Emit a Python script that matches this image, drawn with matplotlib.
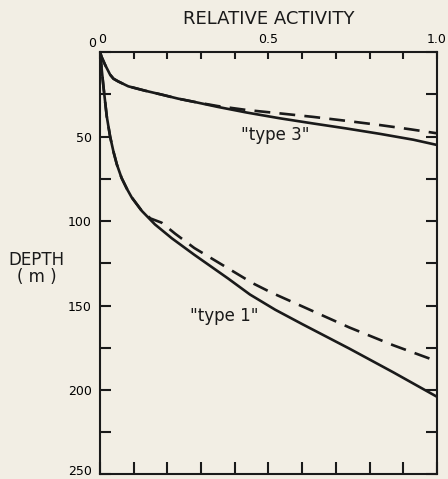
import matplotlib.pyplot as plt
import matplotlib.transforms as mtransforms
import numpy as np

# values (relative activity vs depth in m)
# "type 3" profiles
t3_solid_x = [0.0, 0.005, 0.015, 0.03, 0.04, 0.054, 0.084, 0.134, 0.183, 0.232, 0.282, 0.35, 0.435,
              0.533, 0.633, 0.73, 0.83, 0.93, 1.0]
t3_solid_d = [0, 3, 7.5, 13.4, 15.8, 17.4, 20.3, 22.9, 25.2, 27.6, 29.6, 32.5, 35.8,
              39.2, 42.3, 45.2, 48.4, 51.9, 55]
t3_dash_x = [0.0, 0.005, 0.015, 0.03, 0.04, 0.054, 0.084, 0.134, 0.183, 0.232, 0.282, 0.35, 0.435,
             0.533, 0.633, 0.73, 0.83, 0.92, 1.0]
t3_dash_d = [0, 3, 7.5, 13.4, 15.8, 17.4, 20.3, 22.9, 25.2, 27.6, 29.6, 32, 34.3,
             36.3, 38.4, 40.7, 43.2, 45.7, 48.1]

# "type 1" profiles
t1_solid_x = [0.0, 0.005, 0.01, 0.02, 0.03, 0.04, 0.05, 0.064, 0.08, 0.094, 0.124, 0.163, 0.213,
              0.28, 0.33, 0.38, 0.445, 0.52, 0.6, 0.74, 0.87, 1.0]
t1_solid_d = [0, 10, 20, 38, 50, 59, 66.5, 74.5, 81, 86, 94, 102, 110.2,
              120, 127, 134, 143.5, 152.5, 161, 175.5, 189.5, 204]
t1_dash_x = [0.0, 0.005, 0.01, 0.02, 0.03, 0.04, 0.05, 0.064, 0.08, 0.094, 0.124, 0.15, 0.183,
             0.223, 0.28, 0.38, 0.455, 0.51, 0.6, 0.74, 0.87, 1.0]
t1_dash_d = [0, 10, 20, 38, 50, 59, 66.5, 74.5, 81, 86, 94, 98.5, 101,
             107.5, 116, 128, 137, 142.5, 150.5, 163, 173.5, 183]

x_ticks = np.arange(0, 1.01, 0.1)
x_labels = {0.0: '0', 0.5: '0.5', 1.0: '1.0'}
y_ticks = np.arange(0, 251, 25)
y_labels = {0: '0', 50: '50', 100: '100', 150: '150', 200: '200', 250: '250'}

bg = '#f2eee4'
ink = '#1a1a1a'

fig = plt.figure(figsize=(4.48, 4.79), dpi=100, facecolor=bg)
ax = fig.add_axes([0.2232, 0.0094, 0.7522, 0.882])
ax.set_facecolor(bg)

kw = dict(color=ink, lw=1.9, solid_joinstyle='round', solid_capstyle='round')
ax.plot(t3_solid_x, t3_solid_d, **kw)
ax.plot(t3_dash_x, t3_dash_d, dashes=(6, 3.5), **kw)
ax.plot(t1_solid_x, t1_solid_d, **kw)
ax.plot(t1_dash_x, t1_dash_d, dashes=(6, 3.5), **kw)

ax.set_xlim(0, 1.0)
ax.set_ylim(250, 0)

for s in ax.spines.values():
    s.set_linewidth(1.5)
    s.set_color(ink)

ax.set_xticks(x_ticks)
ax.set_xticklabels([x_labels.get(round(v, 1), '') for v in x_ticks])
ax.set_yticks(y_ticks)
ax.set_yticklabels([y_labels.get(int(v), '') for v in y_ticks])
ax.tick_params(axis='x', direction='in', length=8.5, width=1.5, color=ink,
               top=True, bottom=True, labeltop=True, labelbottom=False,
               labelsize=9, pad=4)
ax.tick_params(axis='y', direction='in', length=8, width=1.5, color=ink,
               left=True, right=True, labelsize=9, pad=6)
# top ticks are shorter than the bottom ones in the original
for t in ax.xaxis.get_major_ticks():
    t.tick2line.set_markersize(5)

# nudge the corner labels like in the original lettering
for lab, v in zip(ax.get_yticklabels(), y_ticks):
    if v == 0:
        lab.set_transform(lab.get_transform() + mtransforms.ScaledTranslation(3 / 72, 7 / 72, fig.dpi_scale_trans))
    if v == 250:
        lab.set_transform(lab.get_transform() + mtransforms.ScaledTranslation(0, 3 / 72, fig.dpi_scale_trans))
lab0 = ax.get_xticklabels()[0]
lab0.set_transform(lab0.get_transform() + mtransforms.ScaledTranslation(1.5 / 72, 0, fig.dpi_scale_trans))

ax.set_title('RELATIVE ACTIVITY', fontsize=13, pad=20, color=ink)
fig.text(0.082, 0.44, 'DEPTH\n( m )', ha='center', va='center', fontsize=12,
         color=ink, linespacing=0.95)

ax.text(0.52, 49, '"type 3"', fontsize=12, ha='center', va='center', color=ink)
ax.text(0.368, 156, '"type 1"', fontsize=12, ha='center', va='center', color=ink)

fig.savefig('out.png', dpi=100, facecolor=bg)
